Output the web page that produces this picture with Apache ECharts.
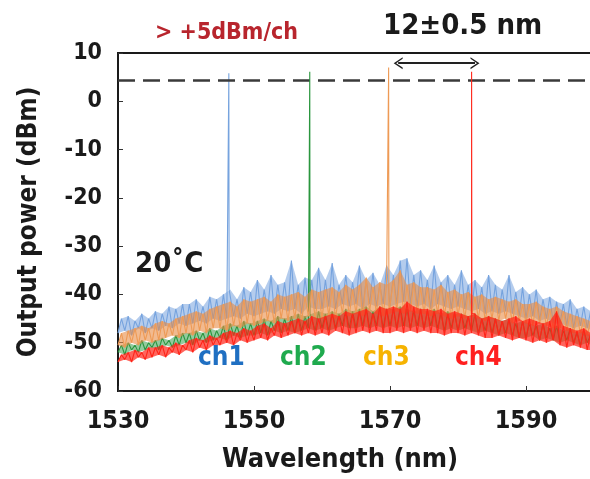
<!DOCTYPE html>
<html>
<head>
<meta charset="utf-8">
<script src="https://cdn.jsdelivr.net/npm/echarts@6/dist/echarts.min.js"></script>
<style>
  html, body { margin: 0; padding: 0; overflow: hidden; background: #fff; }
  #chart { width: 680px; height: 479px; }
</style>
</head>
<body>
<div id="chart"></div>
<script>
// wavelength grid of the noise traces (nm)
var wlStart = 1530, wlStep = 0.5;

// ASE / noise floor for each channel trace (dBm), 1530..1610 every 0.5 nm
// (alternating trough / crest of the noisy band)
var noiseCh1 = [
  -48,-45,-47.5,-44.5,-48.5,-45.5,-47,-44,-48,-45,
  -47,-43.5,-47.5,-44,-46.5,-42.5,-47,-43,-46,-42,
  -46.5,-42,-46,-41,-45.5,-42.5,-46,-40.5,-45,-41,
  -45.5,-40,-45,-39,-44.5,-41,-45,-38.5,-44,-39.5,
  -44.5,-37,-44,-39,-43.5,-36,-44,-38,-43,-37.5,
  -43.5,-33,-43,-38,-44,-36.5,-42.5,-37,-43,-34.5,
  -43,-37,-42.5,-33.5,-43,-38,-42,-36,-42.5,-37.5,
  -42,-34,-43,-37,-42,-35.5,-42.5,-38,-42,-34,
  -42.5,-36,-42,-33,-41.5,-32.5,-42,-36,-42.5,-35,
  -42,-37,-43,-34,-42,-37.5,-42.5,-36,-43,-38,
  -42.5,-35,-43,-38,-43.5,-37,-43,-38.5,-44,-36,
  -43.5,-38,-44,-39,-43.5,-36,-44,-39.5,-44.5,-38.5,
  -45,-40,-44.5,-39,-45.5,-41,-45,-40.5,-46,-41.5,
  -46,-42,-46.5,-41,-47,-43,-46.5,-42.5,-47,-43.5,
  -47.5,-44,-47,-43.5,-48,-44.5,-47.5,-44,-48,-45,
  -48.5,-45,-48,-44.5,-48.5,-45.5,-49,-45,-48.5,-46,
  -49
];
var noiseCh2 = [
  -52,-50.5,-52.5,-50,-51.5,-50.5,-52,-49.5,-51.5,-50,
  -51,-49.5,-51.5,-49,-50.5,-49.5,-51,-48.5,-50.5,-48,
  -50,-48,-50.5,-47.5,-49.5,-48,-50,-47,-49.5,-47.5,
  -49,-46.5,-49.5,-46,-48.5,-46.5,-49,-45.5,-48.5,-46,
  -48.5,-45.5,-48,-45,-48.5,-45.5,-47.5,-44.5,-48,-45,
  -47.5,-44.5,-48,-44,-47.5,-44.5,-47,-44,-47.5,-43.5,
  -47,-44,-47.5,-43.5,-47,-44,-46.5,-43,-47,-43.5,
  -47,-43,-46.5,-42.5,-47,-43.5,-46.5,-42.5,-47,-43,
  -46.5,-43,-47,-42.5,-46.5,-43,-47,-43.5,-46.5,-43,
  -47,-43.5,-46.5,-43,-47,-44,-47.5,-43.5,-47,-44,
  -47.5,-44,-47,-44.5,-47.5,-44,-48,-45,-47.5,-44.5,
  -48,-45,-48.5,-45.5,-48,-45,-48.5,-46,-49,-45.5,
  -49,-46,-48.5,-46.5,-49.5,-46,-49,-47,-49.5,-46.5,
  -50,-47.5,-49.5,-47,-50,-48,-50.5,-47.5,-50,-48.5,
  -51,-48.5,-50.5,-49,-51,-49.5,-51.5,-49,-51,-50,
  -51.5,-49.5,-52,-50,-51.5,-50.5,-52,-50,-52.5,-50.5,
  -52
];
var noiseCh3 = [
  -50.5,-48,-51,-47.5,-50,-47,-50.5,-46.5,-49.5,-47,
  -50,-46,-49.5,-45.5,-49,-46,-48.5,-45,-49,-44.5,
  -48,-44,-48.5,-43.5,-47.5,-44,-48,-43,-47,-42.5,
  -47,-42,-47.5,-41.5,-46.5,-42.5,-47,-41,-46,-41.5,
  -46.5,-41,-46,-40.5,-45.5,-41.5,-46,-40,-45,-40.5,
  -45.5,-40,-45,-39.5,-45.5,-40.5,-44.5,-39,-45,-39.5,
  -45,-39,-44.5,-38.5,-45,-39.5,-44,-38,-44.5,-39,
  -44,-38,-44.5,-36.5,-43.5,-38.5,-44,-37.5,-44.5,-38,
  -44,-37,-43.5,-35,-44,-38,-43.5,-37.5,-44,-38.5,
  -44,-38.5,-44.5,-39,-44,-38,-44.5,-39.5,-45,-39,
  -44.5,-40,-45,-39.5,-44.5,-40.5,-45,-40,-45.5,-41,
  -45,-40.5,-45.5,-41,-45,-41.5,-46,-41,-45.5,-42,
  -46,-42,-46.5,-41.5,-46,-42.5,-46.5,-43,-47,-42.5,
  -47,-43.5,-47.5,-44,-48,-44.5,-48,-45,-48.5,-45.5,
  -49,-46,-48.5,-46.5,-49.5,-46,-49,-47,-50,-46.5,
  -50,-47,-50.5,-47.5,-50,-48,-51,-47.5,-50.5,-48,
  -51
];
var noiseCh4 = [
  -54,-52.5,-53.5,-52,-54,-51.5,-53,-52,-53.5,-51,
  -53,-51,-52.5,-50.5,-53,-51,-52,-50,-52.5,-50.5,
  -51.5,-49.5,-52,-49,-51,-49.5,-51.5,-48.5,-50.5,-49,
  -50.5,-48,-50,-47.5,-50.5,-48,-49.5,-47,-50,-47.5,
  -49.5,-46.5,-49,-46,-49.5,-47,-48.5,-45.5,-49,-46,
  -48.5,-45.5,-48,-45,-48.5,-45.5,-48,-44.5,-48.5,-45,
  -48,-44.5,-48.5,-44,-47.5,-44.5,-48,-43.5,-48.5,-44,
  -48,-43.5,-47.5,-43,-48,-44,-47.5,-42.5,-48,-43,
  -48,-42.5,-47.5,-43,-48,-41.5,-47.5,-42.5,-48,-43,
  -47.5,-43,-48,-43.5,-48,-43,-48.5,-44,-48,-43.5,
  -48,-44,-48.5,-44.5,-48,-44,-48.5,-45,-49,-44.5,
  -49,-45,-48.5,-45.5,-49,-45,-49.5,-44.5,-49,-45.5,
  -49.5,-45,-50,-45.5,-49.5,-46,-50,-45.5,-49.5,-43.5,
  -50.5,-46.5,-51,-47,-50.5,-47.5,-51,-47,-51.5,-48,
  -51.5,-49,-52,-48.5,-51.5,-49.5,-52,-49,-52.5,-50,
  -52.5,-50,-53,-50.5,-52.5,-51,-53,-50.5,-53,-51,
  -53
];

// lasing peaks
var channels = ['ch1', 'ch2', 'ch3', 'ch4'];
var peakWl = [1546.3, 1558.2, 1569.8, 1582.0];
var peakPower = [5.8, 6.1, 7.0, 6.1];

var targetLevel = 4.4;                 // dashed "> +5dBm/ch" line
var spacingArrow = [1571.2, 1582.5];   // 12 nm arrow ends
var spacingArrowY = 7.9;

var xTicks = [1530, 1550, 1570, 1590, 1610];
var yTicks = [10, 0, -10, -20, -30, -40, -50, -60];

var lineColors = ['#76a3de', '#2a963e', '#ee9a55', '#ff2418'];
var bandColors = ['rgba(118,163,222,0.55)', 'rgba(42,150,62,0.5)', 'rgba(232,140,70,0.6)', 'rgba(255,36,24,0.7)'];
var labelColors = ['#1f6fc2', '#1faa4e', '#f6b300', '#ff1f1f'];
var font = '"Liberation Sans Narrow", "DejaVu Sans Condensed", sans-serif';

function buildTrace(noise, wl, peak) {
  var out = [];
  var done = false;
  for (var i = 0; i < noise.length; i++) {
    var x = wlStart + i * wlStep;
    if (!done && x > wl) {
      out.push([wl - 0.04, noise[i - 1]]);
      out.push([wl, peak]);
      out.push([wl + 0.04, noise[i]]);
      done = true;
    }
    out.push([x, noise[i]]);
  }
  return out;
}

// band between troughs and crests of a noise trace, drawn as a polygon through the axes
function bandSeries(noise, k) {
  return {
    type: 'custom',
    clip: true,
    silent: true,
    z: 2 + 2 * k,
    data: [0],
    renderItem: function (params, api) {
      var top = [], bottom = [];
      for (var i = 0; i < noise.length; i++) {
        var p = api.coord([wlStart + i * wlStep, noise[i]]);
        if (i % 2) top.push(p); else bottom.push(p);
      }
      return {
        type: 'polygon',
        shape: { points: top.concat(bottom.reverse()) },
        style: { fill: bandColors[k] }
      };
    }
  };
}

var noises = [noiseCh1, noiseCh2, noiseCh3, noiseCh4];
var series = [];
noises.forEach(function (n, k) {
  series.push(bandSeries(n, k));
  series.push({
    name: channels[k],
    type: 'line',
    data: buildTrace(n, peakWl[k], peakPower[k]),
    showSymbol: false,
    symbol: 'none',
    lineStyle: { color: lineColors[k], width: 1.1 },
    z: 3 + 2 * k
  });
});

var chevron = 'path://M0,10 L5,0 L10,10 L8.6,10 L5,2.8 L1.4,10 Z';
series[series.length - 1].markLine = {
  silent: true,
  symbol: ['none', 'none'],
  label: { show: false },
  data: [
    { yAxis: targetLevel, lineStyle: { color: '#3a3a3a', width: 2.5, type: [17, 8] } },
    [{ coord: [spacingArrow[0], spacingArrowY], symbol: chevron, symbolSize: [12, 9],
       lineStyle: { color: '#222', width: 2, type: 'solid' } },
     { coord: [spacingArrow[1], spacingArrowY], symbol: chevron, symbolSize: [12, 9] }]
  ]
};

var chLabelX = [198, 280, 363, 455];
var graphics = channels.map(function (c, k) {
  return {
    type: 'text', left: chLabelX[k], top: 345, z: 100,
    style: { text: c, fill: labelColors[k], fontSize: 26, fontWeight: 'bold', fontFamily: font }
  };
});
graphics.push(
  { type: 'text', left: 155, top: 22, style: { text: '> +5dBm/ch', fill: '#b8252d', fontSize: 23, fontWeight: 'bold', fontFamily: font } },
  { type: 'text', left: 383, top: 12, style: { text: '12\u00b10.5 nm', fill: '#1a1a1a', fontSize: 29, fontWeight: 'bold', fontFamily: font } },
  { type: 'text', left: 135, top: 250, z: 100, style: { text: '20\u02daC', fill: '#1a1a1a', fontSize: 29, fontWeight: 'bold', fontFamily: font } },
  { type: 'text', left: 222, top: 446, style: { text: 'Wavelength (nm)', fill: '#1a1a1a', fontSize: 27, fontWeight: 'bold', fontFamily: font } }
);

var chart = echarts.init(document.getElementById('chart'));
chart.setOption({
  animation: false,
  backgroundColor: '#fff',
  grid: {
    left: 118, top: 53, right: 18, bottom: 88,
    outerBoundsMode: 'none',
    containLabel: false,
    show: true, borderColor: '#1a1a1a', borderWidth: 2
  },
  xAxis: {
    type: 'value',
    min: xTicks[0], max: xTicks[xTicks.length - 1], interval: 20,
    axisLine: { show: true, onZero: false, lineStyle: { color: '#1a1a1a', width: 2 } },
    axisTick: { show: true, inside: true, length: 5, lineStyle: { color: '#333' } },
    splitLine: { show: false },
    axisLabel: { margin: 18, color: '#1a1a1a', fontSize: 25, fontWeight: 'bold', fontFamily: font,
      formatter: function (v) { return String(v); } }
  },
  yAxis: {
    type: 'value',
    min: yTicks[yTicks.length - 1], max: yTicks[0], interval: 10,
    name: 'Output power (dBm)', nameLocation: 'middle', nameGap: 76,
    nameTextStyle: { color: '#1a1a1a', fontSize: 26, fontWeight: 'bold', fontFamily: font },
    axisLine: { show: true, lineStyle: { color: '#1a1a1a', width: 2 } },
    axisTick: { show: true, inside: true, length: 5, lineStyle: { color: '#333' } },
    splitLine: { show: false },
    axisLabel: { margin: 16, color: '#1a1a1a', fontSize: 23, fontWeight: 'bold', fontFamily: font }
  },
  graphic: graphics,
  series: series
});
</script>
</body>
</html>
